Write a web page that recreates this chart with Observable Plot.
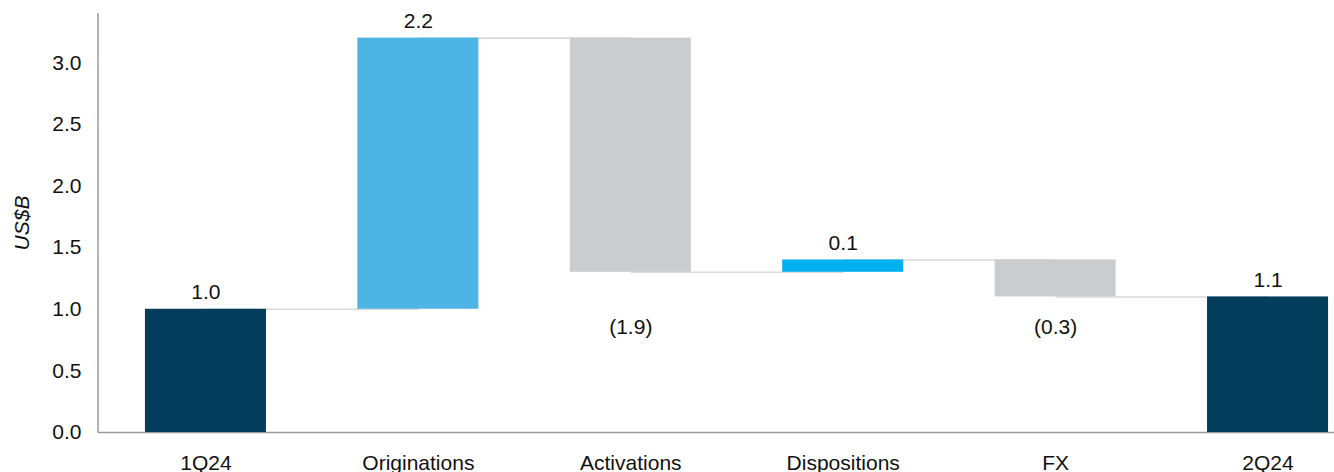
<!DOCTYPE html>
<html>
<head>
<meta charset="utf-8">
<script src="https://cdn.jsdelivr.net/npm/d3@7"></script>
<script src="https://cdn.jsdelivr.net/npm/@observablehq/plot@0.6"></script>
<style>
  html, body { margin: 0; padding: 0; background: #fff; }
  body { width: 1334px; height: 472px; overflow: hidden; }
  svg { display: block; }
</style>
</head>
<body>
<div id="chart"></div>
<script>
// ---- data ----
const categories = ["1Q24", "Originations", "Activations", "Dispositions", "FX", "2Q24"];
const changes = [1.0, 2.2, -1.9, 0.1, -0.3, 1.1];
const kinds = ["total", "increase", "decrease", "increase", "decrease", "total"];
const valueLabels = ["1.0", "2.2", "(1.9)", "0.1", "(0.3)", "1.1"];
const yTicks = [0, 0.5, 1.0, 1.5, 2.0, 2.5, 3.0];
const yLabel = "US$B";

// ---- build waterfall table ----
let running = 0;
const rows = categories.map((c, i) => {
  let start, end;
  if (kinds[i] === "total") { start = 0; end = changes[i]; running = end; }
  else { start = running; end = running + changes[i]; running = end; }
  return { category: c, kind: kinds[i], change: changes[i], start, end,
           lo: Math.min(start, end), hi: Math.max(start, end), label: valueLabels[i] };
});
const connectors = rows.slice(0, -1).map((r, i) => ({
  from: r.category, to: rows[i + 1].category, level: r.end
}));

const colorOf = {
  "1Q24": "#023d5b", "Originations": "#4db4e6", "Activations": "#c9cdd0",
  "Dispositions": "#00b0f0", "FX": "#c9cdd0", "2Q24": "#023d5b"
};

const W = 1334, H = 472, ML = 98, MT = 13, MB = 40;
const FONT = "Liberation Sans, Arial, sans-serif";

const plot = Plot.plot({
  width: W, height: H,
  marginLeft: ML, marginRight: 0, marginTop: MT, marginBottom: MB,
  style: { fontFamily: FONT, fontSize: "21px", color: "#111", background: "#fff", overflow: "visible" },
  x: { type: "band", domain: categories, range: [ML, 1375], paddingInner: 0.4303, paddingOuter: 0.221, round: false, label: null },
  y: { domain: [0, 3.4], label: null },
  marks: [
    Plot.ruleY([0], { stroke: "#9a9a9a", strokeWidth: 1.5 }),
    Plot.link(connectors, { x1: "from", x2: "to", y1: "level", y2: "level", stroke: "#d9d9d9", strokeWidth: 1.6 }),
    Plot.rectY(rows, { x: "category", y1: "lo", y2: "hi", fill: d => colorOf[d.category] }),
    Plot.text(rows.filter(d => d.change >= 0), {
      x: "category", y: "hi", text: "label", lineAnchor: "bottom", dy: -10, fill: "#111"
    }),
    Plot.text(rows.filter(d => d.change < 0), {
      x: "category", y: () => 0.85, text: "label", lineAnchor: "middle", fill: "#111"
    }),
    Plot.axisY({ ticks: yTicks, tickFormat: d3.format(".1f"), tickSize: 0, tickPadding: 17, label: null }),
    Plot.axisX({ tickSize: 0, tickPadding: 23, label: null }),
    Plot.text([yLabel], { frameAnchor: "left", textAnchor: "middle", rotate: -90, dx: -76, text: d => d, fontStyle: "italic", fill: "#111" })
  ]
});

// left axis line
const ys = plot.scale("y").range;
d3.select(plot).append("line")
  .attr("x1", ML).attr("x2", ML)
  .attr("y1", Math.min(...ys)).attr("y2", Math.max(...ys) + 0.5)
  .attr("stroke", "#9a9a9a").attr("stroke-width", 1.5);

document.getElementById("chart").appendChild(plot);
</script>
</body>
</html>
